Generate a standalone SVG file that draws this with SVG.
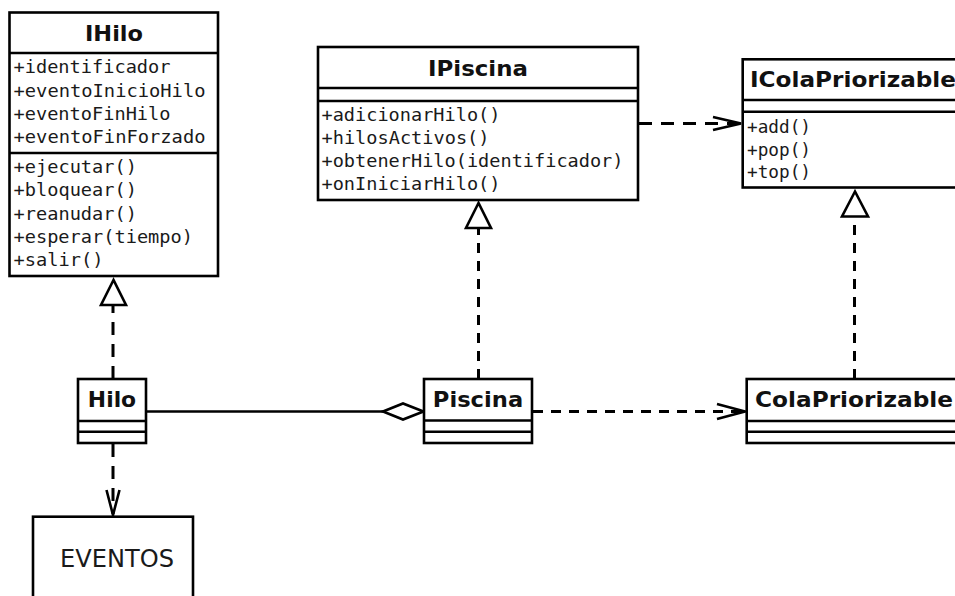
<svg xmlns="http://www.w3.org/2000/svg" width="955" height="596" viewBox="0 0 955 596">
  <style>
    .box { fill: #fff; stroke: #000; stroke-width: 2.6; }
    .sep { stroke: #000; stroke-width: 2.6; fill: none; }
    .title { font-family: "DejaVu Sans", "Liberation Sans", sans-serif; font-weight: bold; font-size: 22px; fill: #111; }
    .mem { font-family: "DejaVu Sans Mono", "Liberation Mono", monospace; font-size: 17.5px; fill: #1a1a1a; }
    .plain { font-family: "DejaVu Sans", "Liberation Sans", sans-serif; font-size: 25px; fill: #1a1a1a; }
    .dash { stroke: #000; stroke-width: 3; fill: none; stroke-dasharray: 10 8; }
    .dashl { stroke: #000; stroke-width: 3; fill: none; stroke-dasharray: 13 9; }
    .solid { stroke: #000; stroke-width: 2.6; fill: none; }
    .head { stroke: #000; stroke-width: 2.6; fill: #fff; stroke-linejoin: miter; }
    .open { stroke: #000; stroke-width: 2.6; fill: none; }
  </style>
  <rect width="955" height="596" fill="#fff"/>

  <!-- connectors -->
  <g id="connectors">
    <!-- Hilo realizes IHilo -->
    <line class="dashl" x1="113" y1="379" x2="113" y2="306"/>
    <polygon class="head" points="113.5,280 101,305 126,305"/>
    <!-- Piscina realizes IPiscina -->
    <line class="dash" x1="478.5" y1="379" x2="478.5" y2="229"/>
    <polygon class="head" points="478.5,203 466,228 491,228"/>
    <!-- ColaPriorizable realizes IColaPriorizable -->
    <line class="dash" x1="854.5" y1="379" x2="854.5" y2="217"/>
    <polygon class="head" points="855,191.5 842,216.5 868,216.5"/>
    <!-- IPiscina uses IColaPriorizable -->
    <line class="dashl" x1="639" y1="123.5" x2="740" y2="123.5"/>
    <polyline class="open" points="713,117 741,123.5 713,130"/>
    <!-- Piscina uses ColaPriorizable -->
    <line class="dash" x1="533" y1="411.5" x2="744" y2="411.5"/>
    <polyline class="open" points="717,404 745,411.5 717,419"/>
    <!-- Hilo uses EVENTOS -->
    <line class="dashl" x1="113" y1="444" x2="113" y2="514"/>
    <polyline class="open" points="106.5,490 113,515 119.5,490"/>
    <!-- Piscina aggregates Hilo -->
    <line class="solid" x1="146" y1="411.5" x2="383" y2="411.5"/>
    <polygon class="head" points="383,411.5 403,403.5 423.5,411.5 403,419.5"/>
  </g>

  <!-- IHilo -->
  <g id="IHilo">
    <rect class="box" x="9.5" y="12.5" width="208.5" height="263.5"/>
    <line class="sep" x1="9.5" y1="53" x2="218" y2="53"/>
    <line class="sep" x1="9.5" y1="153" x2="218" y2="153"/>
    <text class="title" x="114" y="40.5" text-anchor="middle" textLength="58" lengthAdjust="spacingAndGlyphs">IHilo</text>
    <text class="mem" x="13.5" y="73.3" textLength="157" lengthAdjust="spacingAndGlyphs">+identificador</text>
    <text class="mem" x="13.5" y="96.6" textLength="192" lengthAdjust="spacingAndGlyphs">+eventoInicioHilo</text>
    <text class="mem" x="13.5" y="119.9" textLength="157" lengthAdjust="spacingAndGlyphs">+eventoFinHilo</text>
    <text class="mem" x="13.5" y="143.2" textLength="192" lengthAdjust="spacingAndGlyphs">+eventoFinForzado</text>
    <text class="mem" x="13.5" y="173" textLength="123.5" lengthAdjust="spacingAndGlyphs">+ejecutar()</text>
    <text class="mem" x="13.5" y="196.3" textLength="123.5" lengthAdjust="spacingAndGlyphs">+bloquear()</text>
    <text class="mem" x="13.5" y="219.6" textLength="123.5" lengthAdjust="spacingAndGlyphs">+reanudar()</text>
    <text class="mem" x="13.5" y="242.9" textLength="179.5" lengthAdjust="spacingAndGlyphs">+esperar(tiempo)</text>
    <text class="mem" x="13.5" y="266.2" textLength="90" lengthAdjust="spacingAndGlyphs">+salir()</text>
  </g>

  <!-- IPiscina -->
  <g id="IPiscina">
    <rect class="box" x="318" y="47" width="320" height="153"/>
    <line class="sep" x1="318" y1="88" x2="638" y2="88"/>
    <line class="sep" x1="318" y1="101" x2="638" y2="101"/>
    <text class="title" x="478" y="75.5" text-anchor="middle" textLength="100" lengthAdjust="spacingAndGlyphs">IPiscina</text>
    <text class="mem" x="321.5" y="120.7" textLength="179" lengthAdjust="spacingAndGlyphs">+adicionarHilo()</text>
    <text class="mem" x="321.5" y="143.5" textLength="168" lengthAdjust="spacingAndGlyphs">+hilosActivos()</text>
    <text class="mem" x="321.5" y="166.5" textLength="302" lengthAdjust="spacingAndGlyphs">+obtenerHilo(identificador)</text>
    <text class="mem" x="321.5" y="189.8" textLength="179" lengthAdjust="spacingAndGlyphs">+onIniciarHilo()</text>
  </g>

  <!-- IColaPriorizable -->
  <g id="IColaPriorizable">
    <rect class="box" x="742.7" y="59.3" width="240" height="128.2"/>
    <line class="sep" x1="742.7" y1="100" x2="960" y2="100"/>
    <line class="sep" x1="742.7" y1="111.7" x2="960" y2="111.7"/>
    <text class="title" x="750" y="87" textLength="206" lengthAdjust="spacingAndGlyphs">IColaPriorizable</text>
    <text class="mem" x="747" y="133" textLength="64" lengthAdjust="spacingAndGlyphs">+add()</text>
    <text class="mem" x="747" y="155.5" textLength="64" lengthAdjust="spacingAndGlyphs">+pop()</text>
    <text class="mem" x="747" y="178.3" textLength="64" lengthAdjust="spacingAndGlyphs">+top()</text>
  </g>

  <!-- Hilo -->
  <g id="Hilo">
    <rect class="box" x="78" y="379" width="68" height="64"/>
    <line class="sep" x1="78" y1="421" x2="146" y2="421"/>
    <line class="sep" x1="78" y1="431.7" x2="146" y2="431.7"/>
    <text class="title" x="112" y="407" text-anchor="middle" textLength="48.3" lengthAdjust="spacingAndGlyphs">Hilo</text>
  </g>

  <!-- Piscina -->
  <g id="Piscina">
    <rect class="box" x="424" y="379" width="108" height="64"/>
    <line class="sep" x1="424" y1="420.5" x2="532" y2="420.5"/>
    <line class="sep" x1="424" y1="431.7" x2="532" y2="431.7"/>
    <text class="title" x="478" y="407" text-anchor="middle" textLength="90.3" lengthAdjust="spacingAndGlyphs">Piscina</text>
  </g>

  <!-- ColaPriorizable -->
  <g id="ColaPriorizable">
    <rect class="box" x="746.7" y="379" width="240" height="64"/>
    <line class="sep" x1="746.7" y1="421" x2="960" y2="421"/>
    <line class="sep" x1="746.7" y1="431.7" x2="960" y2="431.7"/>
    <text class="title" x="755" y="407" textLength="198" lengthAdjust="spacingAndGlyphs">ColaPriorizable</text>
  </g>

  <!-- EVENTOS -->
  <g id="EVENTOS">
    <rect class="box" x="33" y="516.7" width="160" height="100"/>
    <text class="plain" x="60" y="567" textLength="114" lengthAdjust="spacingAndGlyphs">EVENTOS</text>
  </g>
</svg>
